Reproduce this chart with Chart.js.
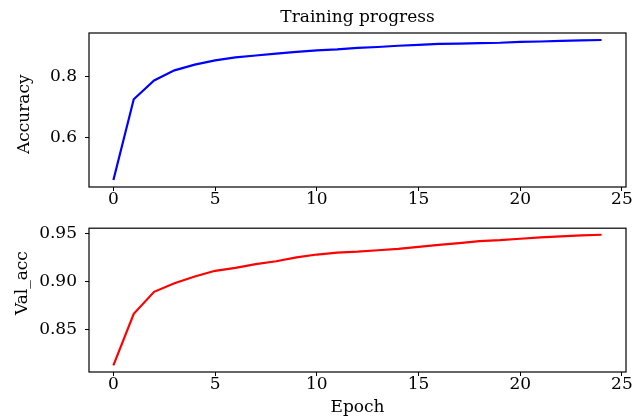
<!DOCTYPE html>
<html lang="en">
<head>
<meta charset="UTF-8">
<title>Training progress</title>
<script src="https://cdn.jsdelivr.net/npm/chart.js"></script>
<style>
  body { margin: 0; background: #fff; }
  .wrap { position: relative; width: 643px; height: 418px; }
  canvas { position: absolute; left: 0; }
  #accChart { top: 0; }
  #valChart { top: 210px; }
</style>
</head>
<body>
<div class="wrap">
  <canvas id="accChart" width="643" height="210"></canvas>
  <canvas id="valChart" width="643" height="208"></canvas>
</div>
<script>
const epochs = [0, 1, 2, 3, 4, 5, 6, 7, 8, 9, 10, 11, 12, 13, 14, 15, 16, 17, 18, 19, 20, 21, 22, 23, 24];
const accuracy = [0.459, 0.725, 0.787, 0.820, 0.839, 0.853, 0.863, 0.869, 0.875, 0.881, 0.886, 0.889, 0.894,
                  0.897, 0.901, 0.904, 0.907, 0.908, 0.910, 0.911, 0.914, 0.915, 0.917, 0.919, 0.920];
const valAcc = [0.812, 0.866, 0.889, 0.898, 0.905, 0.911, 0.914, 0.918, 0.921, 0.925, 0.928, 0.930, 0.931,
                0.9325, 0.934, 0.936, 0.938, 0.940, 0.942, 0.943, 0.9445, 0.946, 0.947, 0.948, 0.9487];
const epochTicks = [0, 5, 10, 15, 20, 25];
const accTicks = [0.6, 0.8];
const valAccTicks = [0.85, 0.90, 0.95];

const FONT = 'DejaVu Serif';
const SIZE = 17;

// black box round the plot area, like matplotlib spines
const frame = {
  id: 'frame',
  afterDatasetsDraw(chart) {
    const a = chart.chartArea;
    const ctx = chart.ctx;
    ctx.save();
    ctx.strokeStyle = '#000';
    ctx.lineWidth = 1.2;
    ctx.strokeRect(a.left, a.top, a.right - a.left, a.bottom - a.top);
    ctx.restore();
  }
};

// 5% margin on both sides, matplotlib default
function padRange(values) {
  const lo = Math.min(...values), hi = Math.max(...values);
  const m = (hi - lo) * 0.05;
  return [lo - m, hi + m];
}

function buildChart(id, cfg) {
  const [yMin, yMax] = padRange(cfg.values);
  const xMargin = (epochs[epochs.length - 1] - epochs[0]) * 0.05;
  return new Chart(document.getElementById(id), {
    type: 'line',
    data: {
      datasets: [{
        data: epochs.map((e, i) => ({ x: e, y: cfg.values[i] })),
        borderColor: cfg.color,
        borderWidth: 2.2,
        pointRadius: 0,
        tension: 0,
        fill: false
      }]
    },
    options: {
      responsive: false,
      animation: false,
      devicePixelRatio: 1,
      layout: { padding: { left: 0, right: 17, top: cfg.padTop, bottom: 0 } },
      plugins: {
        legend: { display: false },
        tooltip: { enabled: false },
        title: {
          display: !!cfg.title,
          text: cfg.title || '',
          color: '#000',
          fullSize: false,
          font: { family: FONT, size: SIZE, weight: 'normal', lineHeight: 1.2 },
          padding: { top: 7, bottom: 5.6 }
        }
      },
      scales: {
        x: {
          type: 'linear',
          min: epochs[0] - xMargin,
          max: epochs[epochs.length - 1] + xMargin,
          afterBuildTicks: s => { s.ticks = epochTicks.map(v => ({ value: v })); },
          afterFit: s => { s.height = cfg.xHeight; },
          grid: { drawOnChartArea: false, color: '#000', tickLength: 4 },
          border: { display: false },
          ticks: {
            padding: 0, color: '#000', maxRotation: 0, autoSkip: false,
            font: { family: FONT, size: SIZE, lineHeight: 1 }
          },
          title: {
            display: !!cfg.xTitle,
            text: cfg.xTitle || '',
            color: '#000',
            font: { family: FONT, size: SIZE, lineHeight: 1.2 },
            padding: { top: 0, bottom: 0 }
          }
        },
        y: {
          min: yMin,
          max: yMax,
          afterBuildTicks: s => { s.ticks = cfg.yTicks.map(v => ({ value: v })); },
          afterFit: s => { s.width = 89; },
          grid: { drawOnChartArea: false, color: '#000', tickLength: 4 },
          border: { display: false },
          ticks: {
            padding: 8, color: '#000',
            font: { family: FONT, size: SIZE },
            callback: v => v.toFixed(cfg.decimals)
          },
          title: {
            display: true,
            text: cfg.yTitle,
            color: '#000',
            font: { family: FONT, size: SIZE, lineHeight: 1.2 },
            padding: { top: cfg.yTitlePad, bottom: 0 }
          }
        }
      }
    },
    plugins: [frame]
  });
}

// en spaces nudge the rotated labels along the axis, as in the original
buildChart('accChart', {
  values: accuracy, color: '#0000ff', yTicks: accTicks, decimals: 1,
  title: 'Training progress', yTitle: 'Accuracy\u2002', yTitlePad: 14,
  padTop: 0, xHeight: 23
});

buildChart('valChart', {
  values: valAcc, color: '#ff0000', yTicks: valAccTicks, decimals: 2,
  yTitle: '\u2002\u2002\u2002\u2002Val_acc', yTitlePad: 12, xTitle: 'Epoch',
  padTop: 8, xHeight: 46
});
</script>
</body>
</html>
